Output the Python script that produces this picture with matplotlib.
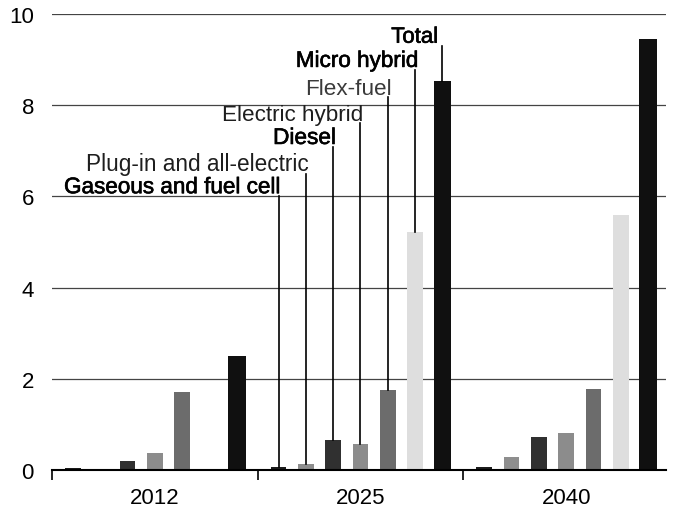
import numpy as np
import matplotlib
matplotlib.use("Agg")
import matplotlib.pyplot as plt
import matplotlib.patheffects as pe

# data (millions of vehicles)
years = ["2012", "2025", "2040"]
series = ["Gaseous and fuel cell", "Plug-in and all-electric", "Diesel",
          "Electric hybrid", "Flex-fuel", "Micro hybrid", "Total"]
gaseous = [0.05, 0.07, 0.07]
plugin = [0.03, 0.14, 0.28]
diesel = [0.20, 0.66, 0.72]
electric_hybrid = [0.37, 0.56, 0.81]
flex_fuel = [1.70, 1.75, 1.78]
micro_hybrid = [0.0, 5.23, 5.59]
total = [2.50, 8.52, 9.45]
values = [gaseous, plugin, diesel, electric_hybrid, flex_fuel, micro_hybrid, total]

# styling
colors = ["#1c1c1c", "#8e8e8e", "#303030", "#8c8c8c", "#6c6c6c", "#dedede", "#101010"]
label_y = [6.0, 6.5, 7.08, 7.6, 8.18, 8.77, 9.3]   # leader line tops (2025 group)
label_dx = [0.014, 0.012, 0.014, 0.014, 0.018, 0.016, -0.02]
label_heavy = [True, False, True, False, False, True, True]
label_size = [16.2, 16.3, 16.3, 16.2, 16.2, 16.2, 16.0]
label_color = ["black", "#1e1e1e", "black", "#1e1e1e", "#3a3a3a", "black", "black"]

plt.rcParams["font.family"] = ["Liberation Sans", "DejaVu Sans"]

fig = plt.figure(figsize=(6.73, 5.10), dpi=100)
ax = fig.add_axes([52 / 673, 39 / 510, 614 / 673, 456 / 510])

x = np.arange(len(years))
for i, vals in enumerate(values):
    w = 0.087 if i == 6 else 0.077
    xpos = x - 0.5 + (21 + i * 27.5) / 207
    ax.bar(xpos, vals, width=w, color=colors[i], zorder=3)
    # leader line + label on the 2025 group
    xc = xpos[1]
    ax.plot([xc, xc], [vals[1], label_y[i]], color="black", lw=1.2, zorder=4)
    t = ax.text(xc + label_dx[i], label_y[i] + 0.07, series[i], ha="right",
                va="baseline", fontsize=label_size[i], color=label_color[i], zorder=5)
    if label_heavy[i]:
        t.set_path_effects([pe.withStroke(linewidth=0.45, foreground=label_color[i])])

ax.set_xlim(-0.5, 2.5 - 3 / 207)
ax.set_ylim(0, 10)
ax.set_yticks([0, 2, 4, 6, 8, 10])
ax.set_xticks(x)
ax.set_xticklabels(years)
ax.set_xticks([-0.5, 0.5, 1.5], minor=True)
ax.tick_params(axis="x", which="major", length=0, pad=12, labelsize=16)
ax.tick_params(axis="x", which="minor", length=7, width=1.2, direction="out")
ax.tick_params(axis="y", length=0, pad=13, labelsize=16)
ax.yaxis.grid(True, color="#444444", lw=0.9, zorder=0)
for s in ["left", "right", "top"]:
    ax.spines[s].set_visible(False)
ax.spines["bottom"].set_linewidth(1.5)
ax.spines["bottom"].set_zorder(5)

fig.savefig("out.png", dpi=100)
